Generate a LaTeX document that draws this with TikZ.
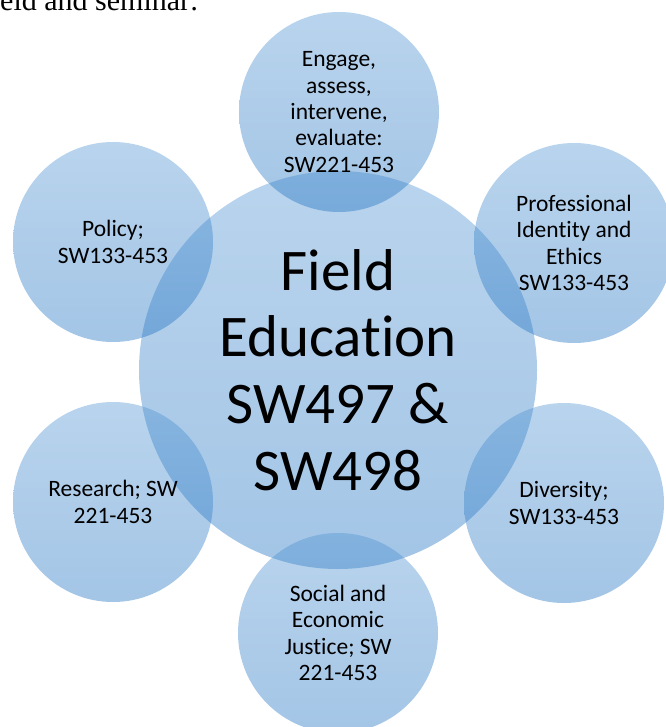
\documentclass[tikz,border=0pt]{standalone}
\usepackage{fontspec}
\setmainfont{Carlito}[Ligatures={NoCommon,NoRare}]
\newfontfamily\serifpart{Liberation Serif}
\usetikzlibrary{positioning}

\definecolor{bubbletop}{RGB}{80,147,210}
\definecolor{bubblebottom}{RGB}{25,110,192}

\tikzset{
  bubble/.style={circle, inner sep=0pt, align=center, top color=bubbletop,
    bottom color=bubblebottom, fill opacity=0.4, text opacity=1},
  topic/.style={bubble, minimum size=200pt, font=\fontsize{23.5}{26.3}\selectfont},
}

\begin{document}
\begin{tikzpicture}[x=1pt, y=-1pt]
  \useasboundingbox (0,0) rectangle (665,727);

  % last line of the text above, cut by the page
  \node[anchor=base west, inner sep=0pt, font=\serifpart\fontsize{30}{34}\selectfont] (caption) at (0,11) {eld and seminar:};

  % centre
  \node[bubble, minimum size=398pt, font=\fontsize{59}{66.7}\selectfont] (field) at (338,370)
    {Field\\Education\\SW497 \&\\SW498};

  % six topics round the centre
  \node[topic] (engage) at (339,112) {Engage,\\assess,\\intervene,\\evaluate:\\SW221-453};
  \node[topic] (ethics) at (574,243) {Professional\\Identity and\\Ethics\\SW133-453};
  \node[topic] (diversity) at (564,503) {Diversity;\\SW133-453};
  \node[topic] (justice) at (338,633) {Social and\\Economic\\Justice; SW\\221-453};
  \node[topic] (research) at (113,502) {Research; SW\\221-453};
  \node[topic] (policy) at (113,242) {Policy;\\SW133-453};
\end{tikzpicture}
\end{document}
